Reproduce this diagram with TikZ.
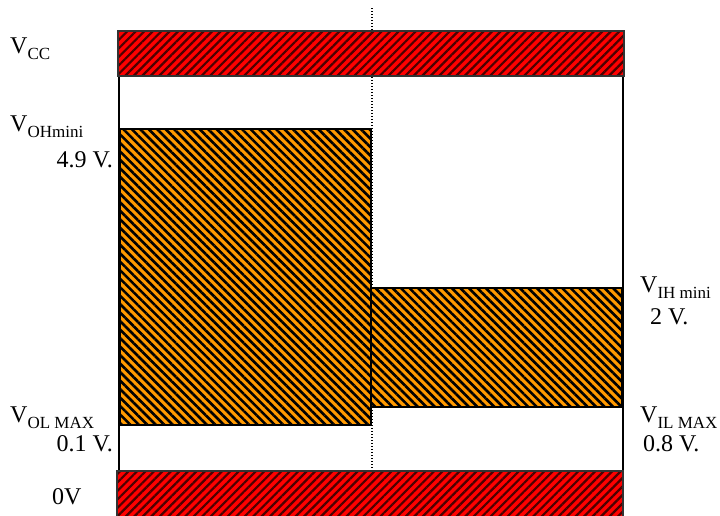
\documentclass[tikz,border=0pt]{standalone}
\usepackage{fontspec}
\setmainfont{Liberation Serif}
\usetikzlibrary{patterns.meta}
\definecolor{barred}{RGB}{255,0,0}
\definecolor{barorange}{RGB}{255,153,0}
\tikzset{
  redbar/.style={draw=black!80, line width=1.5pt, preaction={fill=barred},
    pattern={Lines[angle=45,distance=6pt,line width=2.2pt]}, pattern color=black!70!red},
  orangebox/.style={draw=black, line width=2pt, preaction={fill=barorange},
    pattern={Lines[angle=-45,distance=6pt,line width=2.6pt]}, pattern color=black},
  frameline/.style={draw=black, line width=2pt},
  dotline/.style={draw=black, line width=1.1pt, dash pattern=on 1.1pt off 1.9pt},
  lbl/.style={inner sep=0pt, font=\fontsize{24}{28}\selectfont},
}
\newcommand{\vsub}[1]{V\raisebox{-6pt}{\fontsize{17}{19}\selectfont #1}}
\begin{document}
\begin{tikzpicture}[x=1pt,y=-1pt]
\useasboundingbox (0,0) rectangle (720,515);
% coordinates
\coordinate (dtop) at (372,8);
\coordinate (dbot) at (372,470);
\coordinate (fl1) at (119,76);
\coordinate (fl2) at (119,470);
\coordinate (fr1) at (623,76);
\coordinate (fr2) at (623,470);
% dotted divider
\draw[dotline] (dtop) -- (dbot);
% frame sides
\draw[frameline] (fl1) -- (fl2);
\draw[frameline] (fr1) -- (fr2);
% orange boxes
\path[orangebox] (120,129) rectangle (371,425);
\path[orangebox] (371,288) rectangle (622,407);
% red bars
\path[redbar] (118,31) rectangle (624,76);
\path[redbar] (117,471) rectangle (623,520);
% labels
\node[lbl, anchor=base west] (vcc) at (10,53) {\vsub{CC}};
\node[lbl, anchor=base west] (voh) at (10,131) {\vsub{OHmini}};
\node[lbl, anchor=base east] (voh2) at (113,167) {4.9 V.};
\node[lbl, anchor=base west] (vih) at (640,292) {\vsub{IH mini}};
\node[lbl, anchor=base west] (vih2) at (650,324) {2 V.};
\node[lbl, anchor=base west] (vol) at (10,422) {\vsub{OL MAX}};
\node[lbl, anchor=base east] (vol2) at (113,451) {0.1 V.};
\node[lbl, anchor=base west] (vil) at (640,422) {\vsub{IL MAX}};
\node[lbl, anchor=base west] (vil2) at (643,451) {0.8 V.};
\node[lbl, anchor=base west] (zero) at (52,504) {0V};
\end{tikzpicture}
\end{document}
